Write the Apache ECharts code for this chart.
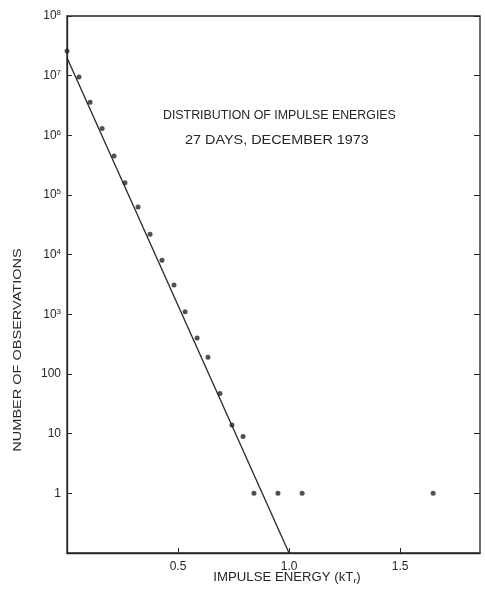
<!DOCTYPE html>
<html>
<head>
<meta charset="utf-8">
<script src="https://cdn.jsdelivr.net/npm/echarts@6/dist/echarts.min.js"></script>
<style>html,body{margin:0;padding:0;background:#fff;}#c{width:485px;height:595px;}</style>
</head>
<body>
<div id="c"></div>
<script>
var energies = [0.0, 0.054, 0.104, 0.158, 0.212, 0.261, 0.320, 0.374, 0.428, 0.482, 0.532, 0.586, 0.635, 0.689, 0.743, 0.793, 0.842, 0.950, 1.059, 1.649];
var counts = [2.6e7, 9.5e6, 3.6e6, 1.3e6, 4.5e5, 1.6e5, 6.3e4, 2.2e4, 8100, 3100, 1100, 400, 190, 47, 14, 9, 1, 1, 1, 1];
var fitX = [0.0, 1.0];
var fitY = [2.0e7, 0.1];
var xTicks = [0.5, 1.0, 1.5];
var xTickLabels = ['0.5', '1.0', '1.5'];
var titleLines = ['DISTRIBUTION OF IMPULSE ENERGIES', '27 DAYS, DECEMBER 1973'];
var yAxisTitle = 'NUMBER OF OBSERVATIONS';

var ink = '#262626';
var font = 'Liberation Sans';

function yFmt(v) {
  var e = Math.round(Math.log10(v));
  if (e < 0) return '';
  if (e <= 2) return String(Math.pow(10, e));
  return '{b|10}{s|' + e + '}';
}

var chart = echarts.init(document.getElementById('c'));
chart.setOption({
  backgroundColor: '#fff',
  animation: false,
  grid: {left: 67, top: 16, right: 5, bottom: 42, show: true, borderColor: ink, borderWidth: 1.3, backgroundColor: 'transparent'},
  xAxis: [{
    type: 'value', min: 0, max: 1.86,
    axisLine: {lineStyle: {color: ink, width: 1.3}},
    axisTick: {inside: true, length: 5, lineStyle: {color: ink}, customValues: xTicks},
    axisLabel: {color: ink, fontFamily: font, fontSize: 12, margin: 8, customValues: xTicks,
      formatter: function (v) { var i = xTicks.indexOf(Math.round(v * 10) / 10); return i >= 0 ? xTickLabels[i] : ''; }},
    splitLine: {show: false}
  }],
  yAxis: [{
    type: 'log', logBase: 10, min: 0.1, max: 1e8, interval: 1, position: 'left',
    axisLine: {show: true, lineStyle: {color: ink, width: 1.3}},
    axisTick: {show: true, inside: true, length: 5, lineStyle: {color: ink}},
    axisLabel: {color: ink, fontFamily: font, fontSize: 12, margin: 6, formatter: yFmt,
      rich: {b: {fontSize: 12, fontFamily: font, color: ink}, s: {fontSize: 8, fontFamily: font, color: ink, verticalAlign: 'top', padding: [0, 0, 6, 0]}}},
    splitLine: {show: false}
  }, {
    type: 'log', logBase: 10, min: 0.1, max: 1e8, interval: 1, position: 'left', offset: -413,
    axisLine: {show: false},
    axisTick: {show: true, inside: false, length: 6, lineStyle: {color: ink}},
    axisLabel: {show: false}, splitLine: {show: false}
  }],
  graphic: [
    {type: 'text', x: 163, y: 110, scaleX: 1.03, style: {text: titleLines[0], font: '12px ' + font, fill: ink}},
    {type: 'text', x: 185, y: 135, scaleX: 1.2, style: {text: titleLines[1], font: '12px ' + font, fill: ink}},
    {type: 'text', x: 18, y: 350, rotation: Math.PI / 2, scaleX: 1.32, style: {text: yAxisTitle, font: '11px ' + font, fill: ink, align: 'center', verticalAlign: 'middle'}},
    {type: 'text', x: 287, y: 578, scaleX: 1.1, style: {rich: {n: {fontSize: 12, fontFamily: font, fill: ink}, sub: {fontSize: 8, fontFamily: font, fill: ink, verticalAlign: 'bottom', padding: [6, 0, 0, 0]}},
      text: '{n|IMPULSE ENERGY (kT}{sub|r}{n|)}', align: 'center', verticalAlign: 'middle'}}
  ],
  series: [{
    type: 'line', data: fitX.map(function (x, i) { return [x, fitY[i]]; }),
    symbol: 'none', lineStyle: {color: ink, width: 1.3}, z: 2
  }, {
    type: 'scatter', data: energies.map(function (x, i) { return [x, counts[i]]; }),
    symbol: 'circle', symbolSize: 5, itemStyle: {color: ink}, z: 3
  }]
});
</script>
</body>
</html>
